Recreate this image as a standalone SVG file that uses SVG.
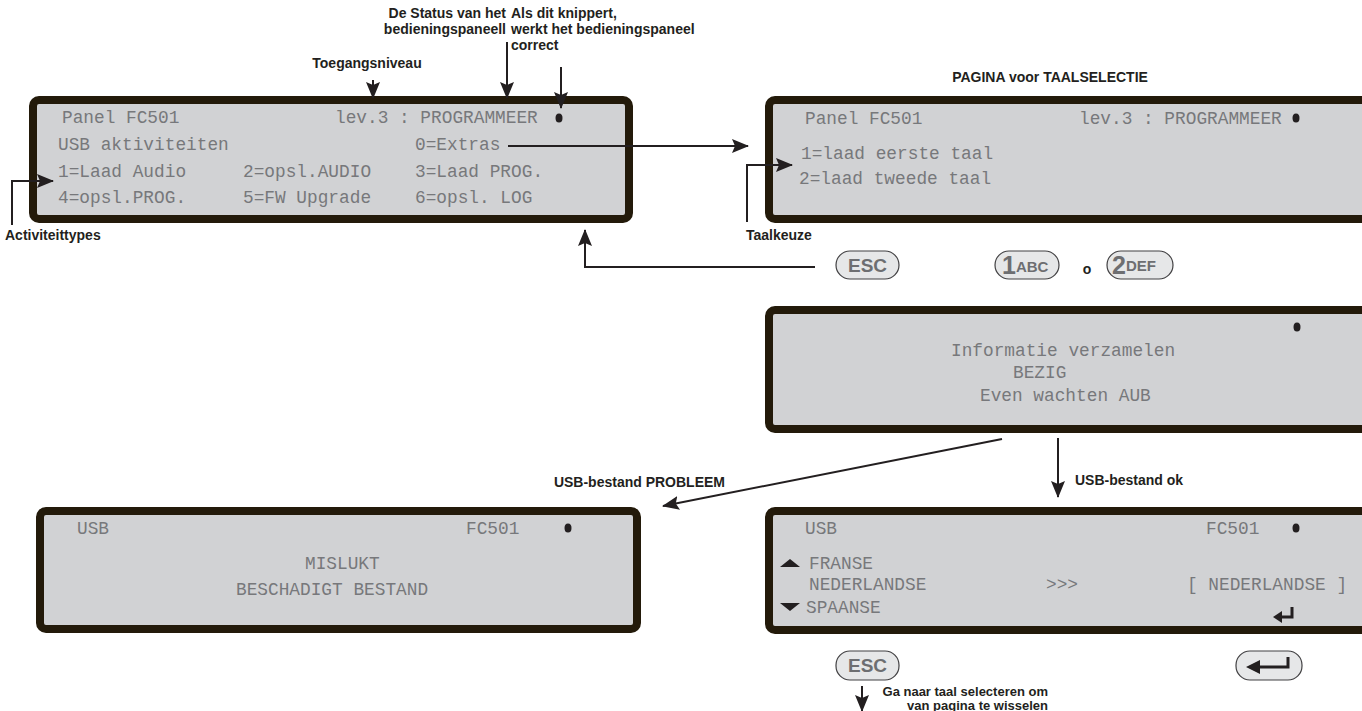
<svg xmlns="http://www.w3.org/2000/svg" width="1362" height="711" viewBox="0 0 1362 711">
<style>
.panel{fill:#d1d2d4;stroke:#231a0a;stroke-width:8}
.lcd{font-family:"Liberation Mono","DejaVu Sans Mono",monospace;font-size:17.8px;fill:#77787b}
.lbl{font-family:"Liberation Sans",Arial,sans-serif;font-weight:bold;font-size:14px;fill:#231f20}
.sm{font-size:13px}
.conn{fill:none;stroke:#231f20;stroke-width:2}
.key{fill:#e6e7e8;stroke:#414042;stroke-width:1.2}
.keyt{font-family:"Liberation Sans",Arial,sans-serif;font-weight:bold;fill:#6d6e71}
.dot{fill:#231f20}
</style>
<defs>
<marker id="ah" markerUnits="userSpaceOnUse" markerWidth="17" markerHeight="14" refX="16" refY="7" orient="auto">
<path d="M0,0 L17,7 L0,14 L3,7 z" fill="#231f20"/>
</marker>
</defs>

<g id="annotations">
<text class="lbl" x="506" y="18" text-anchor="end">De Status van het</text>
<text class="lbl" x="506" y="34" text-anchor="end">bedieningspaneell</text>
<text class="lbl" x="511" y="18">Als dit knippert,</text>
<text class="lbl" x="511" y="34">werkt het bedieningspaneel</text>
<text class="lbl" x="511" y="50">correct</text>
<text class="lbl" x="367" y="68" text-anchor="middle">Toegangsniveau</text>
<text class="lbl" x="1050" y="82" text-anchor="middle">PAGINA voor TAALSELECTIE</text>
<text class="lbl" x="5" y="240">Activiteittypes</text>
<text class="lbl" x="746" y="240">Taalkeuze</text>
<text class="lbl" x="725" y="487" text-anchor="end">USB-bestand PROBLEEM</text>
<text class="lbl" x="1075" y="485">USB-bestand ok</text>
<text class="lbl sm" x="1048" y="696" text-anchor="end">Ga naar taal selecteren om</text>
<text class="lbl sm" x="1048" y="710" text-anchor="end">van pagina te wisselen</text>
<text class="lbl" x="1087" y="274" text-anchor="middle">o</text>
</g>

<g id="panel-main">
<rect class="panel" x="33" y="100" width="596" height="119" rx="6"/>
<text class="lcd" x="62" y="123">Panel FC501</text>
<text class="lcd" x="335" y="123">lev.3 : PROGRAMMEER</text>
<ellipse class="dot" cx="559" cy="118" rx="3.5" ry="4.5"/>
<text class="lcd" x="58" y="150">USB aktiviteiten</text>
<text class="lcd" x="415" y="150">0=Extras</text>
<text class="lcd" x="58" y="177">1=Laad Audio</text>
<text class="lcd" x="243" y="177">2=opsl.AUDIO</text>
<text class="lcd" x="415" y="177">3=Laad PROG.</text>
<text class="lcd" x="58" y="203">4=opsl.PROG.</text>
<text class="lcd" x="243" y="203">5=FW Upgrade</text>
<text class="lcd" x="415" y="203">6=opsl. LOG</text>
</g>

<g id="panel-taal">
<rect class="panel" x="769" y="100" width="605" height="119" rx="6"/>
<text class="lcd" x="805" y="124">Panel FC501</text>
<text class="lcd" x="1079" y="124">lev.3 : PROGRAMMEER</text>
<ellipse class="dot" cx="1296" cy="118" rx="3.5" ry="4.5"/>
<text class="lcd" x="801" y="159">1=laad eerste taal</text>
<text class="lcd" x="799" y="184">2=laad tweede taal</text>
</g>

<g id="panel-bezig">
<rect class="panel" x="769" y="310" width="605" height="119" rx="6"/>
<ellipse class="dot" cx="1297" cy="327" rx="3.5" ry="4.5"/>
<text class="lcd" x="951" y="356">Informatie verzamelen</text>
<text class="lcd" x="1013" y="378">BEZIG</text>
<text class="lcd" x="980" y="401">Even wachten AUB</text>
</g>

<g id="panel-mislukt">
<rect class="panel" x="40" y="511" width="597" height="118" rx="6"/>
<text class="lcd" x="77" y="534">USB</text>
<text class="lcd" x="466" y="534">FC501</text>
<ellipse class="dot" cx="568" cy="528" rx="3.5" ry="4.5"/>
<text class="lcd" x="305" y="569">MISLUKT</text>
<text class="lcd" x="236" y="595">BESCHADIGT BESTAND</text>
</g>

<g id="panel-taalkeuze">
<rect class="panel" x="769" y="511" width="605" height="119" rx="6"/>
<text class="lcd" x="805" y="534">USB</text>
<text class="lcd" x="1206" y="534">FC501</text>
<ellipse class="dot" cx="1296" cy="528" rx="3.5" ry="4.5"/>
<polygon points="780,567 790,559 800,567" fill="#231f20"/>
<text class="lcd" x="809" y="569">FRANSE</text>
<text class="lcd" x="809" y="590">NEDERLANDSE</text>
<text class="lcd" x="1046" y="590">&gt;&gt;&gt;</text>
<text class="lcd" x="1187" y="590">[ NEDERLANDSE ]</text>
<polygon points="780,603 800,603 790,611" fill="#231f20"/>
<text class="lcd" x="806" y="613">SPAANSE</text>
<path d="M1292,607 V617 H1280" fill="none" stroke="#231f20" stroke-width="3"/>
<polygon points="1273,617 1282,611 1282,623" fill="#231f20"/>
</g>

<g id="key-esc-top">
<rect class="key" x="836" y="251" width="63" height="28" rx="14"/>
<text class="keyt" x="867.5" y="272" font-size="19" text-anchor="middle">ESC</text>
</g>
<g id="key-1abc">
<rect class="key" x="995" y="251" width="64" height="28" rx="14"/>
<text class="keyt" x="1002" y="274"><tspan font-size="25">1</tspan><tspan font-size="15" dy="-2">ABC</tspan></text>
</g>
<g id="key-2def">
<rect class="key" x="1107" y="251" width="66" height="28" rx="14"/>
<text class="keyt" x="1112" y="274"><tspan font-size="25">2</tspan><tspan font-size="15" dy="-3">DEF</tspan></text>
</g>
<g id="key-esc-bottom">
<rect class="key" x="836" y="651" width="63" height="29" rx="14"/>
<text class="keyt" x="867.5" y="672" font-size="19" text-anchor="middle">ESC</text>
</g>
<g id="key-enter">
<rect class="key" x="1236" y="651" width="66" height="29" rx="14"/>
<path d="M1288,657 V667 H1258" fill="none" stroke="#231f20" stroke-width="3"/>
<polygon points="1246,667 1260,660 1260,674" fill="#231f20"/>
</g>

<g id="connectors">
<line class="conn" x1="508" y1="146" x2="748" y2="146" marker-end="url(#ah)"/>
<polyline class="conn" points="815,267 585,267 585,230" marker-end="url(#ah)"/>
<polyline class="conn" points="747,222 747,165 792,165" marker-end="url(#ah)"/>
<polyline class="conn" points="12,225 12,181 53,181" marker-end="url(#ah)"/>
<line class="conn" x1="373" y1="80" x2="373" y2="98" marker-end="url(#ah)"/>
<line class="conn" x1="507" y1="42" x2="507" y2="98" marker-end="url(#ah)"/>
<line class="conn" x1="561" y1="67" x2="561" y2="108" marker-end="url(#ah)"/>
<line class="conn" x1="1002" y1="439" x2="663" y2="506" marker-end="url(#ah)"/>
<line class="conn" x1="1058" y1="438" x2="1058" y2="497" marker-end="url(#ah)"/>
<line class="conn" x1="862" y1="686" x2="862" y2="711" marker-end="url(#ah)"/>
</g>
</svg>
